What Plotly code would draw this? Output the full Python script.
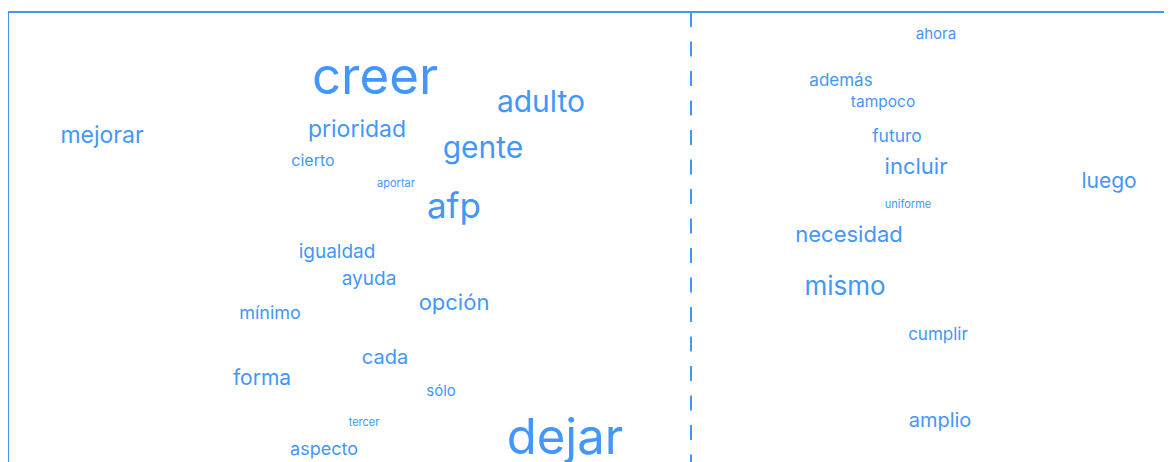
import plotly.graph_objects as go

# Word map: position (x, y) in chart units and weight (font size)
words = ["creer", "adulto", "mejorar", "prioridad", "gente", "cierto", "aportar",
         "afp", "igualdad", "ayuda", "opción", "mínimo", "cada", "forma", "sólo",
         "tercer", "aspecto", "dejar",
         "ahora", "además", "tampoco", "futuro", "incluir", "luego", "uniforme",
         "necesidad", "mismo", "cumplir", "amplio"]
x_vals = [375, 541, 102, 357, 483, 313, 396,
          454, 337, 369, 454, 270, 385, 262, 441,
          364, 324, 565,
          936, 841, 883, 897, 916, 1109, 908,
          849, 845, 938, 940]
y_vals = [80, 103, 136, 130, 149, 161, 183,
          208, 252, 279, 303, 313, 358, 379, 391,
          422, 449, 441,
          34, 81, 102, 137, 167, 182, 204,
          235, 287, 335, 421]
weights = [51, 30, 23, 23, 30, 16, 11,
           35, 19, 19, 22, 18, 20, 21, 15,
           11, 18, 49,
           15, 17, 15.5, 17.5, 22, 21, 11,
           22, 26, 17, 20]

divider_x = 691
blue = "#4397fb"

fig = go.Figure()
fig.add_trace(go.Scatter(
    x=x_vals, y=y_vals, text=words, mode="text",
    textposition="middle center",
    textfont=dict(family="Inter, Roboto, sans-serif", size=weights, color=blue),
    hoverinfo="skip", showlegend=False, cliponaxis=False,
))

fig.add_shape(type="rect", xref="x", yref="y", x0=8, y0=11, x1=1400, y1=700,
              line=dict(color=blue, width=2.2), fillcolor="rgba(0,0,0,0)", layer="below")
fig.add_shape(type="line", xref="x", yref="y", x0=divider_x, x1=divider_x, y0=11, y1=700,
              line=dict(color=blue, width=2, dash="15px,14.5px"), layer="below")

fig.update_layout(
    width=1164, height=454,
    margin=dict(l=0, r=0, t=0, b=0),
    paper_bgcolor="white", plot_bgcolor="white",
    xaxis=dict(range=[8, 1172], visible=False, fixedrange=True),
    yaxis=dict(range=[461, 7], visible=False, fixedrange=True),
)
fig.write_html("out.html", config={"displayModeBar": False})
